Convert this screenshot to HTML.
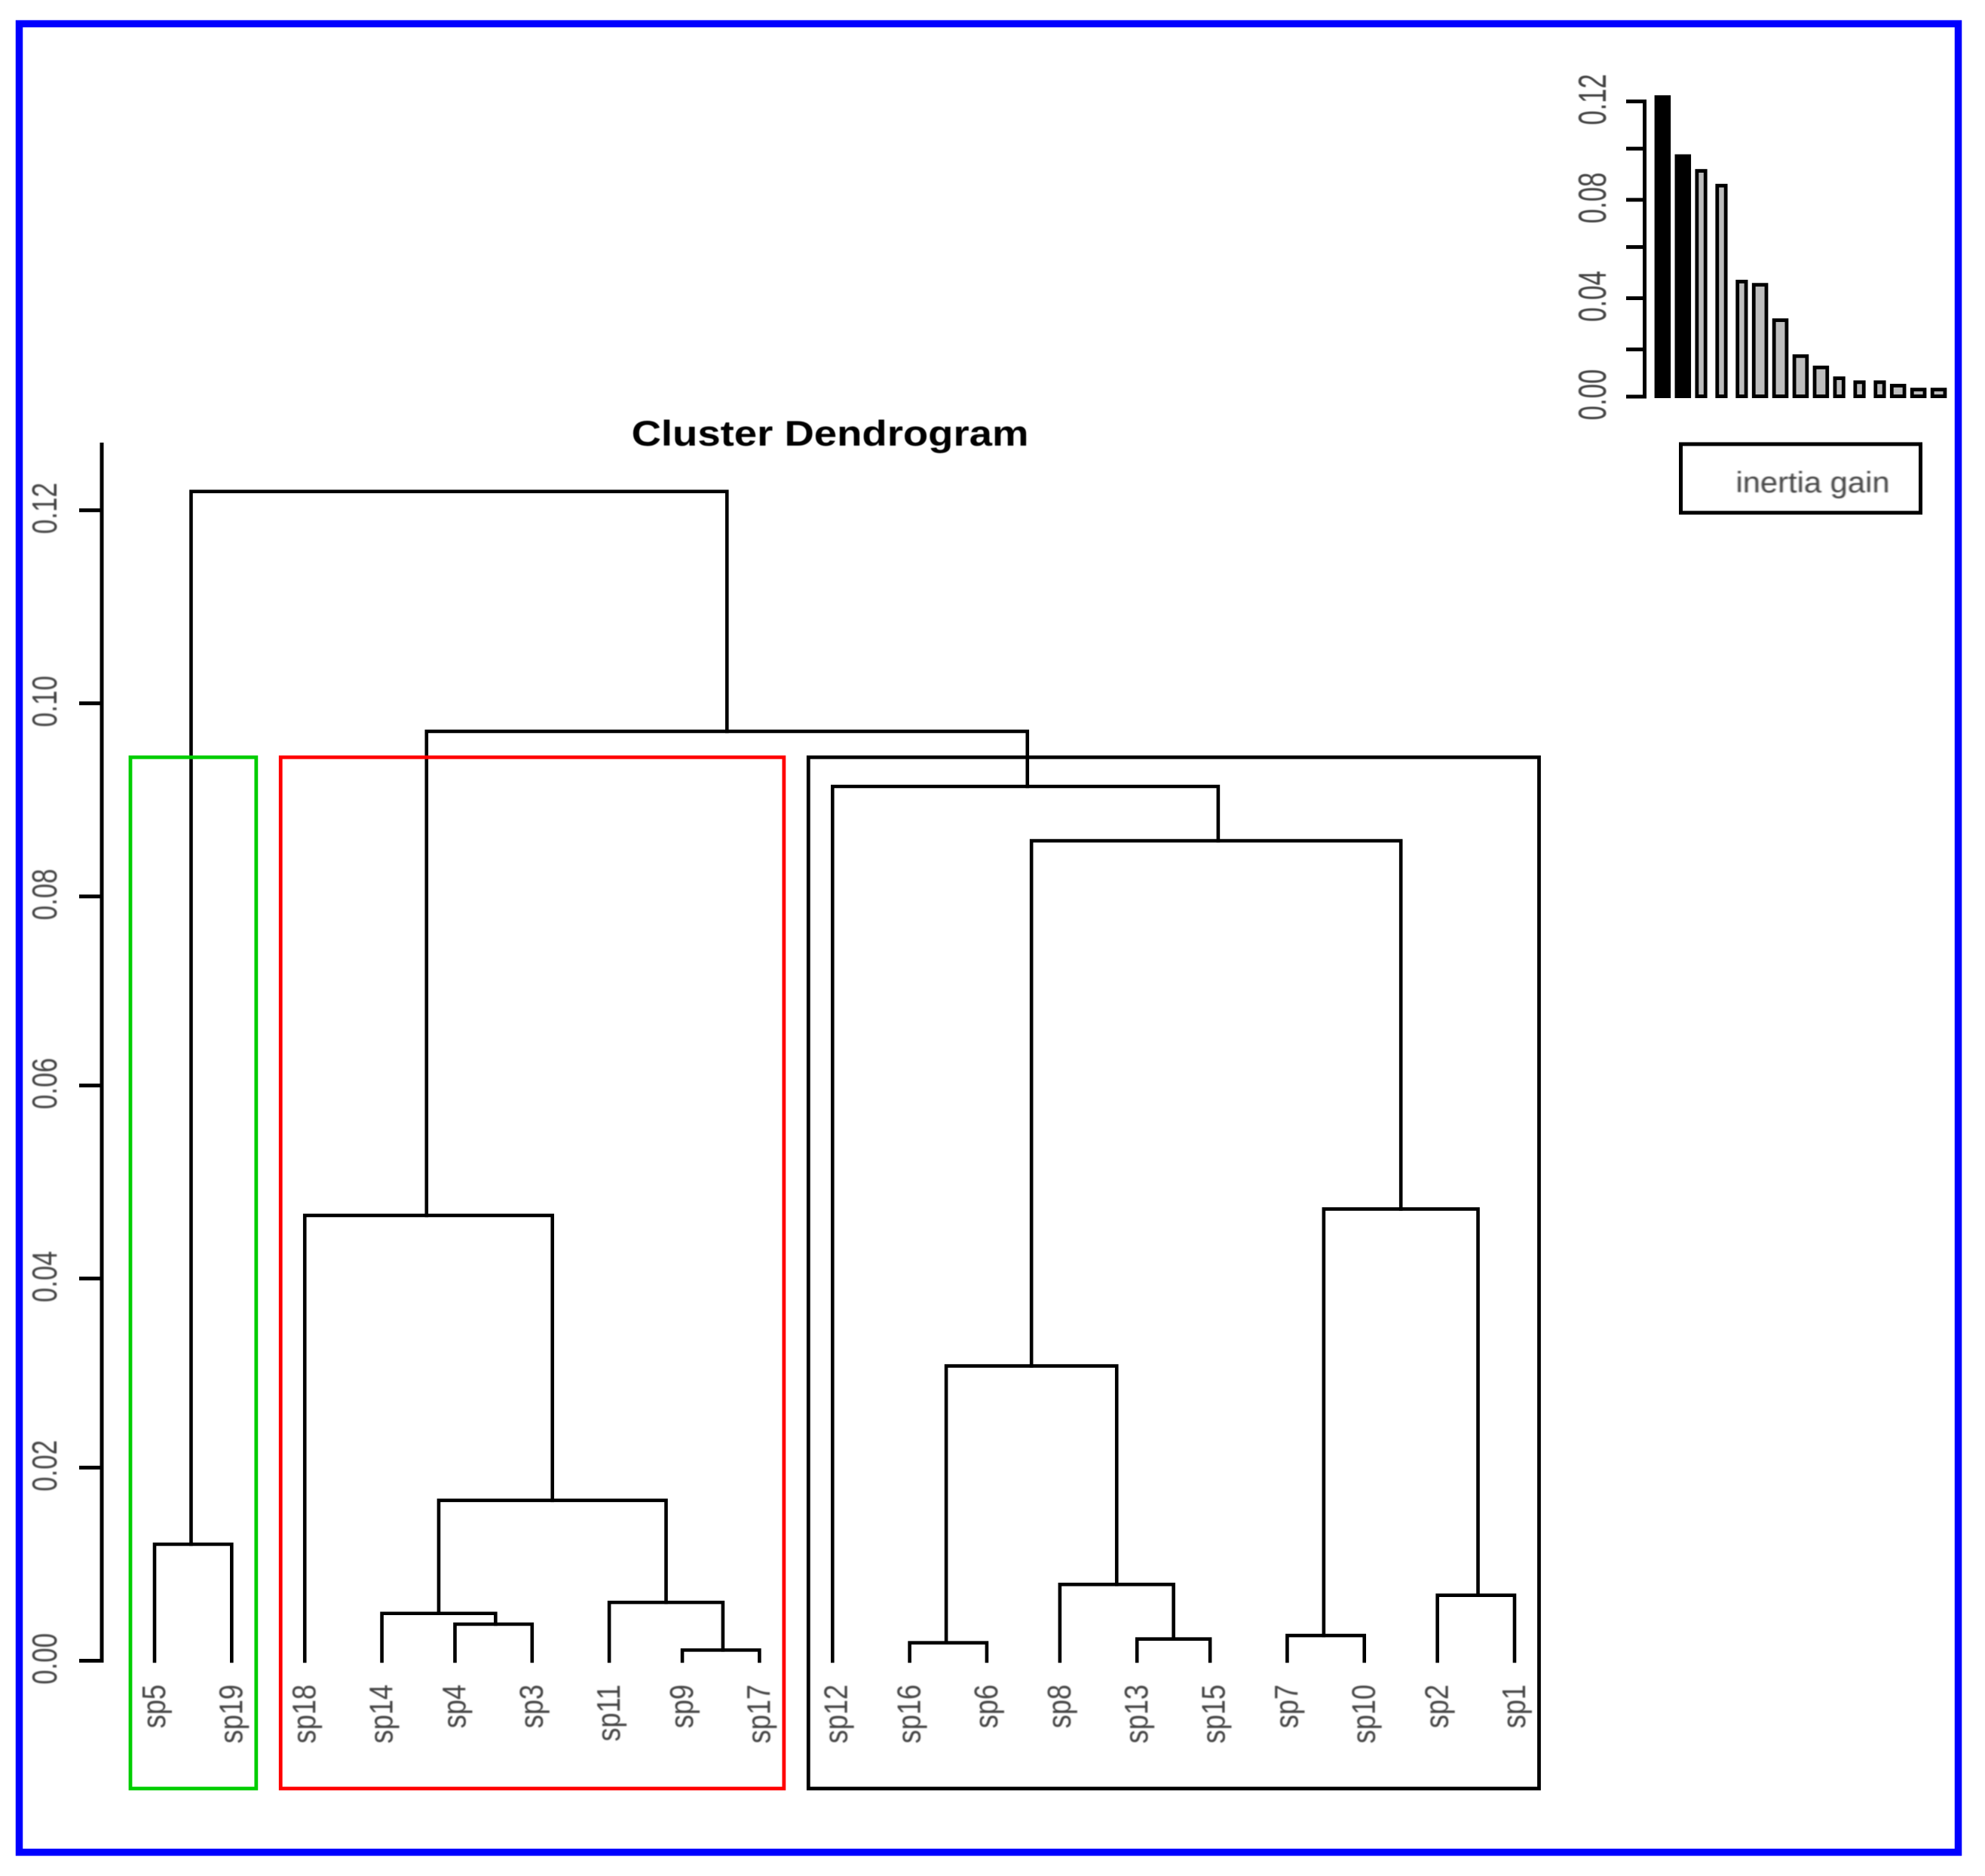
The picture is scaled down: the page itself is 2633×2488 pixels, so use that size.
<!DOCTYPE html>
<html lang="en">
<head>
<meta charset="utf-8">
<title>Cluster Dendrogram</title>
<style>
  html, body { margin: 0; padding: 0; background: #fff; }
  #stage { position: absolute; left: 0; top: 0; width: 2633px; height: 2488px; display: block; }
  text { font-family: "Liberation Sans", Arial, sans-serif; }
</style>
</head>
<body>
<svg id="stage" xmlns="http://www.w3.org/2000/svg" width="2633" height="2488" viewBox="0 0 2633 2488">
  <defs>
    <filter id="soft" x="-20%" y="-20%" width="140%" height="140%"><feGaussianBlur stdDeviation="0.9"/></filter>
    <filter id="softer" x="-10%" y="-10%" width="120%" height="120%"><feGaussianBlur stdDeviation="0.5"/></filter>
  </defs>
  <rect x="0" y="0" width="2633" height="2488" fill="#ffffff"/>
  <rect x="25.5" y="31.5" width="2572" height="2425" fill="none" stroke="#0000ff" stroke-width="9.5"/>
  <text x="0" y="0" transform="translate(1101 591) scale(1.16 1)" text-anchor="middle" font-size="47" font-weight="bold" fill="#000" filter="url(#softer)">Cluster Dendrogram</text>
  <g id="main-axis"></g>
  <g id="tree"></g>
  <g id="leaves"></g>
  <g id="clusters"></g>
  <g id="inset-axis"></g>
  <g id="inset-bars"></g>
  <rect x="2229.5" y="589" width="318" height="91" fill="none" stroke="#000" stroke-width="5"/>
  <text x="0" y="0" transform="translate(2404.5 653) scale(1.07 1)" text-anchor="middle" font-size="39" fill="#444" filter="url(#soft)">inertia gain</text>
</svg>
<script>
// Dendrogram data: leaf order, merge table (negative = leaf number, positive = merge row number), merge heights.
const leafLabels = ['sp5','sp19','sp18','sp14','sp4','sp3','sp11','sp9','sp17','sp12','sp16','sp6','sp8','sp13','sp15','sp7','sp10','sp2','sp1'];
const treeMergeLeft  = [-8, -5, -7, -4, 4, -3, -1, -11, -14, -13, 8, -16, -18, 12, 11, -10, 6, 7];
const treeMergeRight = [-9, -6, 1, 2, 3, 5, -2, -12, -15, 9, 10, -17, -19, 13, 14, 15, 16, 17];
const treeHeights = [0.00115, 0.00385, 0.00612, 0.00497, 0.01675, 0.04645, 0.01218, 0.00191, 0.0023, 0.00799, 0.03076, 0.00267, 0.00686, 0.04712, 0.0855, 0.09116, 0.0969, 0.1219];
const mainTickValues = [0, 0.02, 0.04, 0.06, 0.08, 0.10, 0.12];
const mainTickLabels = ['0.00', '0.02', '0.04', '0.06', '0.08', '0.10', '0.12'];
const clusterFirstLeaf = [0, 2, 9];
const clusterLastLeaf = [1, 8, 18];
const clusterColors = ['#00cd00', '#ff0000', '#000000'];
const clusterCutHeight = 0.0942;
// Inset bar chart data
const inertiaGain = [0.1225, 0.0985, 0.0925, 0.0865, 0.0475, 0.0462, 0.0318, 0.0172, 0.0126, 0.0082, 0.0066, 0.0066, 0.0052, 0.0036, 0.0036];
const barsHighlighted = [true, true, false, false, false, false, false, false, false, false, false, false, false, false, false];
const insetTickValues = [0, 0.02, 0.04, 0.06, 0.08, 0.10, 0.12];
const insetLabelValues = [0, 0.04, 0.08, 0.12];
const insetLabelTexts = ['0.00', '0.04', '0.08', '0.12'];

const SVG_NS = 'http://www.w3.org/2000/svg';
const GRID = 5.385; // the source was an upscaled low-res bitmap; marks snap to its pixel grid

function make(tag, parent, attrs) {
  const el = document.createElementNS(SVG_NS, tag);
  for (const k in attrs) el.setAttribute(k, attrs[k]);
  parent.appendChild(el);
  return el;
}
function yMain(v) { return 2203 - v * 12725; }
function yMainTick(v) { return 2202.5 - 5.335 * Math.round(v / 0.02 * 47.66 - 0.16); }
function xLeaf(i) { return 205 + GRID * Math.round(18.6 * i + 0.03); }
function xLeafLabel(i) { return 219 + GRID * Math.round(18.61 * i + 0.03); }
function yInset(v) { return 526 - v * 3262.5; }
function yInsetTick(v) { return 526 - 5.22 * Math.round(v / 0.02 * 12.52 - 0.04); }
function barLeft(i) { return 2194.6 + GRID * Math.round(0.15 + 4.857 * i); }
function barRight(i) { return 2194.6 + GRID * Math.round(3.7 + 4.857 * i); }

// Main y axis
const mainAxis = document.getElementById('main-axis');
const axisLine = make('line', mainAxis, { x1: 135, x2: 135, y1: 587, y2: yMainTick(0) + 2.5, stroke: '#000', 'stroke-width': 5 });


mainTickValues.forEach(function (v, i) {
  const tick = make('line', mainAxis, { x1: 105, x2: 135, y1: yMainTick(v), y2: yMainTick(v), stroke: '#000', 'stroke-width': 5 });
  
  
  const label = make('text', mainAxis, { transform: 'translate(75 ' + (yMainTick(v) - 2.5) + ') rotate(-90) scale(0.76 1)', 'text-anchor': 'middle', 'font-size': 46, fill: '#444', filter: 'url(#soft)' });
  label.textContent = mainTickLabels[i];
  
  
});

// Dendrogram: walk merge table
const tree = document.getElementById('tree');
const nodePos = [];
const nodeHeight = [];
function childX(ref) { return ref < 0 ? -ref - 1 : nodePos[ref - 1]; }
function childH(ref) { return ref < 0 ? 0 : nodeHeight[ref - 1]; }
treeHeights.forEach(function (h, i) {
  const a = treeMergeLeft[i];
  const b = treeMergeRight[i];
  const ia = childX(a);
  const ib = childX(b);
  nodePos[i] = (ia + ib) / 2;
  nodeHeight[i] = h;
  const path = make('path', tree, {
    d: 'M' + xLeaf(ia) + ' ' + yMain(childH(a)) + ' V' + yMain(h) + ' H' + xLeaf(ib) + ' V' + yMain(childH(b)),
    fill: 'none', stroke: '#000', 'stroke-width': 4.6, 'stroke-linecap': 'square', 'stroke-linejoin': 'miter'
  });
  
  
});

// Leaf labels
const leaves = document.getElementById('leaves');
leafLabels.forEach(function (name, i) {
  const t = make('text', leaves, { transform: 'translate(' + xLeafLabel(i) + ' 2234) rotate(-90) scale(0.82 1)', 'text-anchor': 'end', 'font-size': 44, fill: '#444', filter: 'url(#soft)' });
  t.textContent = name;
  
  
});

// Cluster rectangles
const clusters = document.getElementById('clusters');
clusterFirstLeaf.forEach(function (first, i) {
  const left = xLeaf(first) - 32;
  const right = xLeaf(clusterLastLeaf[i]) + 32.5;
  const top = yMain(clusterCutHeight);
  const r = make('rect', clusters, { x: left, y: top, width: right - left, height: 2372 - top, fill: 'none', stroke: clusterColors[i], 'stroke-width': 4.8 });
  
  
});

// Inset axis
const insetAxis = document.getElementById('inset-axis');
const insetLine = make('line', insetAxis, { x1: 2181.5, x2: 2181.5, y1: yInsetTick(0.12) - 2.5, y2: yInsetTick(0) + 2.5, stroke: '#000', 'stroke-width': 5 });


insetTickValues.forEach(function (v) {
  const tick = make('line', insetAxis, { x1: 2157, x2: 2181, y1: yInsetTick(v), y2: yInsetTick(v), stroke: '#000', 'stroke-width': 5 });
  
  
});
insetLabelValues.forEach(function (v, i) {
  const label = make('text', insetAxis, { transform: 'translate(2130 ' + (yInsetTick(v) - 2.5) + ') rotate(-90) scale(0.67 1)', 'text-anchor': 'middle', 'font-size': 52, fill: '#444', filter: 'url(#soft)' });
  label.textContent = insetLabelTexts[i];
  
  
});

// Inset bars
const insetBars = document.getElementById('inset-bars');
inertiaGain.forEach(function (v, i) {
  const sw = 4.8;
  const l = barLeft(i) + sw / 2;
  const r = barRight(i) - sw / 2;
  const top = yInset(v) + sw / 2;
  const bottom = 528 - sw / 2;
  const bar = make('rect', insetBars, { x: l, y: top, width: r - l, height: bottom - top, fill: barsHighlighted[i] ? '#000' : '#bebebe', stroke: '#000', 'stroke-width': sw });
  
  
});
</script>
</body>
</html>
